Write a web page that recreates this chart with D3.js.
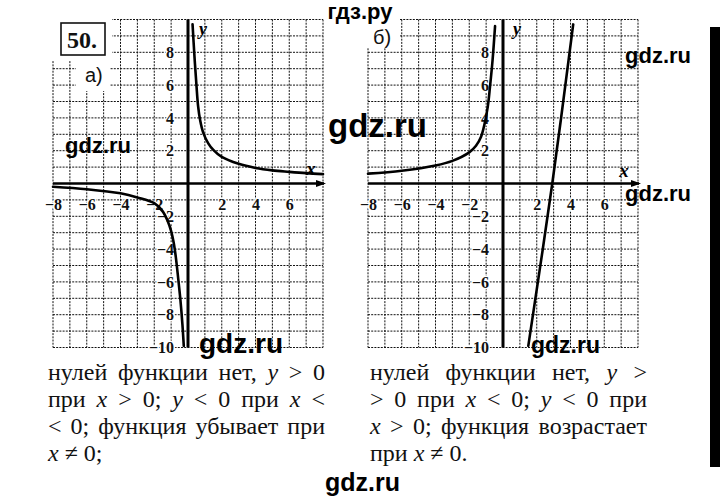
<!DOCTYPE html>
<html><head><meta charset="utf-8">
<script src="https://cdn.jsdelivr.net/npm/d3@7"></script>
<style>body{margin:0;background:#fff}svg{display:block}</style>
</head><body><svg id="c" width="720" height="501"></svg>
<script>
// ---- data ----
const xTicks = [-8, -6, -4, -2, 2, 4, 6];
const yTicks = [8, 6, 4, 2, -2, -4, -6, -8, -10];
const gridXValues = [-8,-7,-6,-5,-4,-3,-2,-1,0,1,2,3,4,5,6,7,8];
const gridYValues = [-10,-9,-8,-7,-6,-5,-4,-3,-2,-1,0,1,2,3,4,5,6,7,8,9,10];
// panel a: hyperbola branches
const curveA_right = [[0.27,9.7],[0.38,7.8],[0.5,6],[0.6,4.7],[0.72,3.85],[0.9,3.1],[1.2,2.45],[1.5,2.05],[2,1.62],[3,1.2],[4,0.95],[5,0.8],[6,0.71],[7,0.63],[8,0.57]];
const curveA_left  = [[-8,-0.2],[-6,-0.35],[-4,-0.6],[-3,-0.85],[-2,-1.2],[-1.5,-1.7],[-1.2,-2.3],[-1,-2.9],[-0.85,-3.6],[-0.72,-4.5],[-0.58,-5.8],[-0.45,-7.1],[-0.33,-8.6],[-0.25,-9.9]];
// panel b
const curveB_left  = [[-8,0.6],[-6,0.78],[-4,1.1],[-3,1.38],[-2,1.9],[-1.6,2.3],[-1.3,2.85],[-1.1,3.6],[-0.9,4.7],[-0.77,5.9],[-0.62,7.5],[-0.47,9.6]];
const curveB_right = [[1.5,-9.9],[2.92,0],[4.16,9.7]];
const panelNames = ["а)", "б)"];
const problemNumber = "50.";
const textLeft = [
  "нулей функции нет, *y* > 0",
  "при *x* > 0; *y* < 0 при *x* <",
  "< 0; функция убывает при",
  "*x* ≠ 0;"
];
const textRight = [
  "нулей функции нет, *y* >",
  "> 0 при *x* < 0; *y* < 0 при",
  "*x* > 0; функция возрастает",
  "при *x* ≠ 0."
];
const wmLatin = "gdz.ru";
const wmCyr = "гдз.ру";

// ---- drawing ----
const svg = d3.select("#c");
svg.append("rect").attr("width",720).attr("height",501).attr("fill","#fff");

const y = d3.scaleLinear().domain([-10,10]).range([347.5,19.5]);
const panels = [
  {x: d3.scaleLinear().domain([-8,8]).range([53,323]), curves:[curveA_right, curveA_left], name: panelNames[0]},
  {x: d3.scaleLinear().domain([-8,8]).range([368,638]), curves:[curveB_left, curveB_right], name: panelNames[1]}
];

const serif = "'Liberation Serif','DejaVu Serif',serif";
const sans = "'Liberation Sans',Arial,sans-serif";

panels.forEach((p,pi)=>{
  const g = svg.append("g");
  const x = p.x;
  // grid
  g.append("g").selectAll("line").data(gridXValues).join("line")
    .attr("x1",d=>x(d)).attr("x2",d=>x(d)).attr("y1",y(10)).attr("y2",y(-10))
    .attr("stroke","#111").attr("stroke-width",1).attr("stroke-dasharray","2,1.2");
  g.append("g").selectAll("line").data(gridYValues).join("line")
    .attr("x1",x(-8)).attr("x2",x(8)).attr("y1",d=>y(d)).attr("y2",d=>y(d))
    .attr("stroke","#111").attr("stroke-width",1).attr("stroke-dasharray","2,1.2");

  // white patches behind panel labels
  if(pi===0){
    g.append("rect").attr("x",48).attr("y",14).attr("width",64).attr("height",46).attr("fill","#fff");
    g.append("rect").attr("x",76).attr("y",60).attr("width",34).attr("height",31).attr("fill","#fff");
    g.append("rect").attr("x",61).attr("y",23).attr("width",44).attr("height",32)
      .attr("fill","#fff").attr("stroke","#111").attr("stroke-width",1.6);
    g.append("text").attr("x",67).attr("y",48).text(problemNumber)
      .style("font-family",serif).style("font-weight","bold").style("font-size","24px").attr("fill","#111");
    g.append("text").attr("x",85).attr("y",82).text(p.name)
      .style("font-family",sans).style("font-size","20px").attr("fill","#111");
  } else {
    g.append("rect").attr("x",364).attr("y",14).attr("width",36).attr("height",34).attr("fill","#fff");
    g.append("text").attr("x",373).attr("y",44).text(p.name)
      .style("font-family",sans).style("font-size","20px").attr("fill","#111");
  }

  // axes lines
  g.append("line").attr("x1",x(-8)).attr("x2",x(8)+1).attr("y1",y(0)).attr("y2",y(0))
    .attr("stroke","#000").attr("stroke-width",2.6);
  const tipX = x(8)+3, y0 = y(0);
  g.append("path").attr("d",`M${tipX},${y0} L${tipX-10},${y0-3.5} L${tipX-10},${y0+3.5} Z`).attr("fill","#000");
  g.append("line").attr("x1",x(0)).attr("x2",x(0)).attr("y1",y(10)).attr("y2",y(-10))
    .attr("stroke","#000").attr("stroke-width",3);

  // tick labels via d3 axes
  const ax = g.append("g").attr("transform",`translate(0,${y(0)})`)
    .call(d3.axisBottom(x).tickValues(xTicks).tickSize(0).tickPadding(15));
  ax.select(".domain").remove();
  const ay = g.append("g").attr("transform",`translate(${x(0)},0)`)
    .call(d3.axisLeft(y).tickValues(yTicks).tickSize(0).tickPadding(14));
  ay.select(".domain").remove();
  [ax,ay].forEach(a=>{
    a.attr("font-family",null).attr("font-size",null);
    a.selectAll("text")
      .style("font-family",serif).style("font-weight","bold").style("font-size","16px")
      .attr("fill","#111").attr("stroke","#fff").attr("stroke-width",3).attr("paint-order","stroke");
  });

  // axis names
  g.append("text").attr("x", pi===0 ? 311 : 624).attr("y", pi===0 ? 175 : 177).attr("text-anchor","middle")
    .text("x").style("font-family",serif).style("font-style","italic").style("font-weight","bold").style("font-size","19px");
  g.append("text").attr("x", pi===0 ? 203 : 517).attr("y",35).attr("text-anchor","middle")
    .text("y").style("font-family",serif).style("font-style","italic").style("font-weight","bold").style("font-size","18px");

  // curves
  const line = d3.line().x(d=>x(d[0])).y(d=>y(d[1])).curve(d3.curveCatmullRom.alpha(0.5));
  p.curves.forEach(c=>{
    g.append("path").attr("d",line(c)).attr("fill","none").attr("stroke","#000")
      .attr("stroke-width",2.6).attr("stroke-linecap","round");
  });
});

// body text, justified
function drawLine(str, x0, width, baseline, justify){
  const g = svg.append("g");
  const words = str.split(" ");
  const nodes = words.map(w=>{
    const t = g.append("text").attr("y",baseline)
      .style("font-family",serif).style("font-size","24px").attr("fill","#111");
    w.split("*").forEach((seg,i)=>{ if(seg) t.append("tspan").text(seg).style("font-style", i%2 ? "italic" : null); });
    return t;
  });
  const widths = nodes.map(n=>n.node().getComputedTextLength());
  const total = d3.sum(widths);
  const gap = justify && words.length>1 ? (width-total)/(words.length-1) : 6;
  let cx = x0;
  nodes.forEach((n,i)=>{ n.attr("x",cx); cx += widths[i]+gap; });
}
const baselines = [380, 407, 434, 461];
textLeft.forEach((s,i)=>drawLine(s, 48, 277, baselines[i], i<3));
textRight.forEach((s,i)=>drawLine(s, 370, 277, baselines[i], i<3));

// watermarks
function wm(t,x,yb,size,anchor){
  svg.append("text").attr("x",x).attr("y",yb).attr("text-anchor",anchor||"start").text(t)
    .style("font-family",sans).style("font-weight","bold").style("font-size",size+"px").attr("fill","#000");
}
wm(wmCyr, 360, 19, 22, "middle");
wm(wmLatin, 65, 153, 22);
wm(wmLatin, 328, 137, 33);
wm(wmLatin, 625, 63, 22);
wm(wmLatin, 625, 201, 22);
wm(wmLatin, 199, 353, 28);
wm(wmLatin, 531, 353, 23);
wm(wmLatin, 325, 491, 25);

// black scan edge on the right
svg.append("rect").attr("x",710).attr("y",27).attr("width",10).attr("height",440).attr("fill","#000");
</script></body></html>
